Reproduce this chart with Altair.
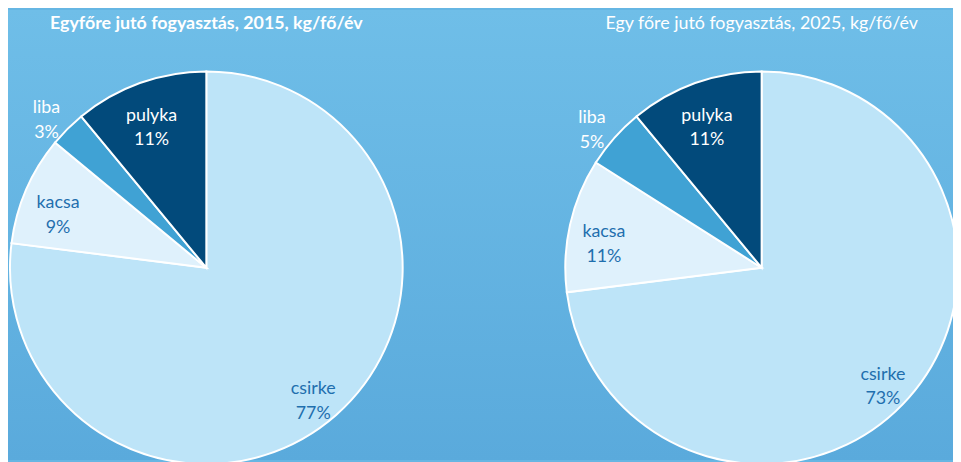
import altair as alt
import pandas as pd

categories = ["csirke", "kacsa", "liba", "pulyka"]
share_2015 = [77, 9, 3, 11]
share_2025 = [73, 11, 5, 11]
colors = ["#bde4f8", "#dff1fc", "#40a2d4", "#024a7b"]
label_colors = ["#1f6fae", "#1f6fae", "#ffffff", "#ffffff"]
title_2015 = "Egyfőre jutó fogyasztás, 2015, kg/fő/év"
title_2025 = "Egy főre jutó fogyasztás, 2025, kg/fő/év"

FONT = "Lato"
W, H = 953, 454
R = 198


def make_df(values):
    return pd.DataFrame({
        "cat": categories,
        "v": values,
        "idx": list(range(len(categories))),
        "label": [f"{c}\n{v}%" for c, v in zip(categories, values)],
    })


color_scale = alt.Scale(domain=categories, range=colors)
label_scale = alt.Scale(domain=categories, range=label_colors)


def pie(values, cx, cy, title, bold):
    df = make_df(values)
    base = alt.Chart(df).encode(
        theta=alt.Theta("v:Q", stack=True),
        order=alt.Order("idx:Q"),
        x=alt.value(cx),
        y=alt.value(cy),
    )
    arcs = base.mark_arc(outerRadius=R, stroke="white", strokeWidth=2).encode(
        color=alt.Color("cat:N", scale=color_scale, legend=None)
    )
    inner = base.mark_text(
        radius=163, lineBreak="\n", font=FONT, fontSize=18, lineHeight=25,
        baseline="middle", align="center"
    ).encode(
        text="label:N",
        color=alt.Color("cat:N", scale=label_scale, legend=None),
        opacity=alt.condition(alt.datum.cat == "liba", alt.value(0), alt.value(1)),
    )
    outer = base.mark_text(
        radius=228, lineBreak="\n", font=FONT, fontSize=18, lineHeight=25,
        baseline="middle", align="center", color="white"
    ).encode(
        text="label:N",
        opacity=alt.condition(alt.datum.cat == "liba", alt.value(1), alt.value(0)),
    )
    ttl = alt.Chart(pd.DataFrame({"t": [title]})).mark_text(
        font=FONT, fontSize=18, fontWeight="bold" if bold else "normal",
        color="white", align="center", baseline="middle"
    ).encode(text="t:N", x=alt.value(cx), y=alt.value(14))
    return [arcs, inner, outer, ttl]


bg = alt.Chart(pd.DataFrame({"a": [0]})).mark_rect(
    color=alt.Gradient(
        gradient="linear",
        stops=[alt.GradientStop(color="#6fbee8", offset=0),
               alt.GradientStop(color="#5aaadc", offset=1)],
        x1=0, x2=0, y1=0, y2=1,
    )
).encode(x=alt.value(0), x2=alt.value(W), y=alt.value(0), y2=alt.value(H))

layers = [bg] + pie(share_2015, 200, 260, title_2015, True) + pie(share_2025, 760, 260, title_2025, False)

chart = alt.layer(*layers).resolve_scale(theta="independent", color="independent").properties(
    width=W, height=H, background="#66b6e3", padding=0, autosize="none"
).configure_view(stroke=None)

chart.save("out.html", embed_options={"renderer": "svg", "actions": False})
